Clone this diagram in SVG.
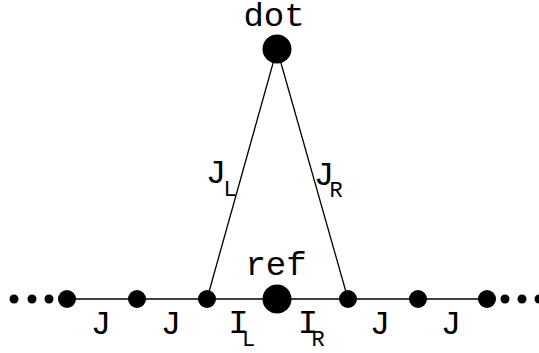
<svg xmlns="http://www.w3.org/2000/svg" width="539" height="353" viewBox="0 0 539 353">
<style>
.ln{stroke:#000;stroke-width:1.3;fill:none}
.nd{fill:#000}
.t{font-family:"Courier New","Nimbus Mono PS","FreeMono","Liberation Mono",monospace;font-size:34px;fill:#000;text-anchor:middle}
.s{font-family:"Courier New","Nimbus Mono PS","FreeMono","Liberation Mono",monospace;font-size:22px;fill:#000;text-anchor:middle}
</style>
<rect width="539" height="353" fill="#fff"/>
<g id="connectors">
<line class="ln" x1="67" y1="299" x2="487" y2="299"/>
<line class="ln" x1="277" y1="49" x2="207" y2="299"/>
<line class="ln" x1="277" y1="49" x2="348" y2="299"/>
</g>
<g id="dot"><circle class="nd" cx="277" cy="49" r="14.5"/><text class="t" x="274" y="26">dot</text></g>
<g id="ref"><circle class="nd" cx="277" cy="299" r="14.5"/><text class="t" x="276" y="275">ref</text></g>
<g id="n1"><circle class="nd" cx="67" cy="299" r="9"/></g>
<g id="n2"><circle class="nd" cx="137" cy="299" r="9"/></g>
<g id="n3"><circle class="nd" cx="207" cy="299" r="9"/></g>
<g id="n4"><circle class="nd" cx="348" cy="299" r="9"/></g>
<g id="n5"><circle class="nd" cx="418" cy="299" r="9"/></g>
<g id="n6"><circle class="nd" cx="487" cy="299" r="9"/></g>
<g id="ellipsis-left"><circle class="nd" cx="14" cy="299" r="4.5"/><circle class="nd" cx="32" cy="299" r="4.5"/><circle class="nd" cx="49" cy="299" r="4.5"/></g>
<g id="ellipsis-right"><circle class="nd" cx="505" cy="299" r="4.5"/><circle class="nd" cx="522" cy="299" r="4.5"/><circle class="nd" cx="539" cy="299" r="4.5"/></g>
<g id="labels">
<text class="t" x="101" y="334">J</text>
<text class="t" x="171" y="334">J</text>
<text class="t" x="380" y="334">J</text>
<text class="t" x="451" y="334">J</text>
<text class="t" x="238.5" y="333">I</text><text class="s" x="248.5" y="346">L</text>
<text class="t" x="308" y="333">I</text><text class="s" x="318" y="346">R</text>
<text class="t" x="216" y="183">J</text><text class="s" x="230" y="196">L</text>
<text class="t" x="324" y="185">J</text><text class="s" x="336" y="197">R</text>
</g>
</svg>
